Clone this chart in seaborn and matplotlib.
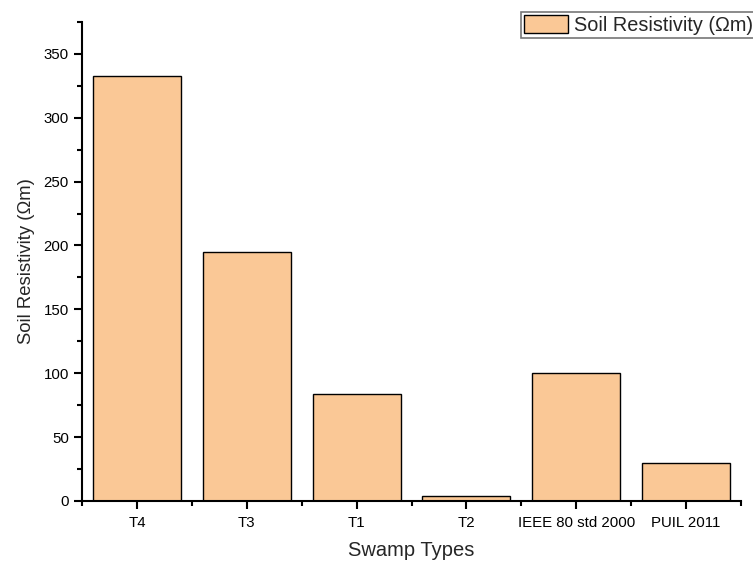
import matplotlib
matplotlib.use('Agg')
import matplotlib.pyplot as plt
import seaborn as sns
import pandas as pd
from matplotlib.ticker import MultipleLocator

# Data
swamp_types = ['T4', 'T3', 'T1', 'T2', 'IEEE 80 std 2000', 'PUIL 2011']
resistivity = [333, 195, 84, 4, 100, 30]

data = pd.DataFrame({'Swamp Types': swamp_types, 'Soil Resistivity': resistivity})

sns.set_style('ticks')
plt.rcParams['font.family'] = ['Liberation Sans', 'DejaVu Sans']

fig = plt.figure(figsize=(7.53, 5.61), dpi=100)
ax = fig.add_axes([0.109, 0.107, 0.875, 0.854])

sns.barplot(data=data, x='Swamp Types', y='Soil Resistivity', color='#FAC896',
            saturation=1, edgecolor='black', linewidth=1, width=0.8,
            label='Soil Resistivity (Ωm)', ax=ax)

ax.set_xlim(-0.5, 5.5)
ax.set_ylim(0, 375)
ax.yaxis.set_major_locator(MultipleLocator(50))
ax.yaxis.set_minor_locator(MultipleLocator(25))
ax.set_xticks(range(len(swamp_types)))
ax.set_xticks([i - 0.5 for i in range(len(swamp_types) + 1)], minor=True)
ax.tick_params(axis='both', which='major', direction='out', length=6, width=1.5,
               labelsize=10.8, color='black', labelcolor='black')
ax.tick_params(axis='x', which='major', pad=5)
ax.tick_params(axis='both', which='minor', direction='out', length=3.5, width=1.5,
               color='black')

for s in ['top', 'right']:
    ax.spines[s].set_visible(False)
for s in ['left', 'bottom']:
    ax.spines[s].set_linewidth(1.5)
    ax.spines[s].set_color('black')

ax.set_xlabel('Swamp Types', fontsize=14.5, labelpad=8)
ax.set_ylabel('Soil Resistivity (Ωm)', fontsize=13.3, labelpad=6)

leg = ax.legend(loc='upper left', bbox_to_anchor=(521 / 753, 1 - 12 / 561),
                bbox_transform=fig.transFigure, fontsize=14.3, frameon=True,
                fancybox=False, borderpad=0.15, handlelength=2.2,
                handleheight=1.0, handletextpad=0.3, borderaxespad=0)
leg.get_frame().set_edgecolor('#555555')
leg.get_frame().set_linewidth(1.2)

fig.savefig('out.png', dpi=100)
